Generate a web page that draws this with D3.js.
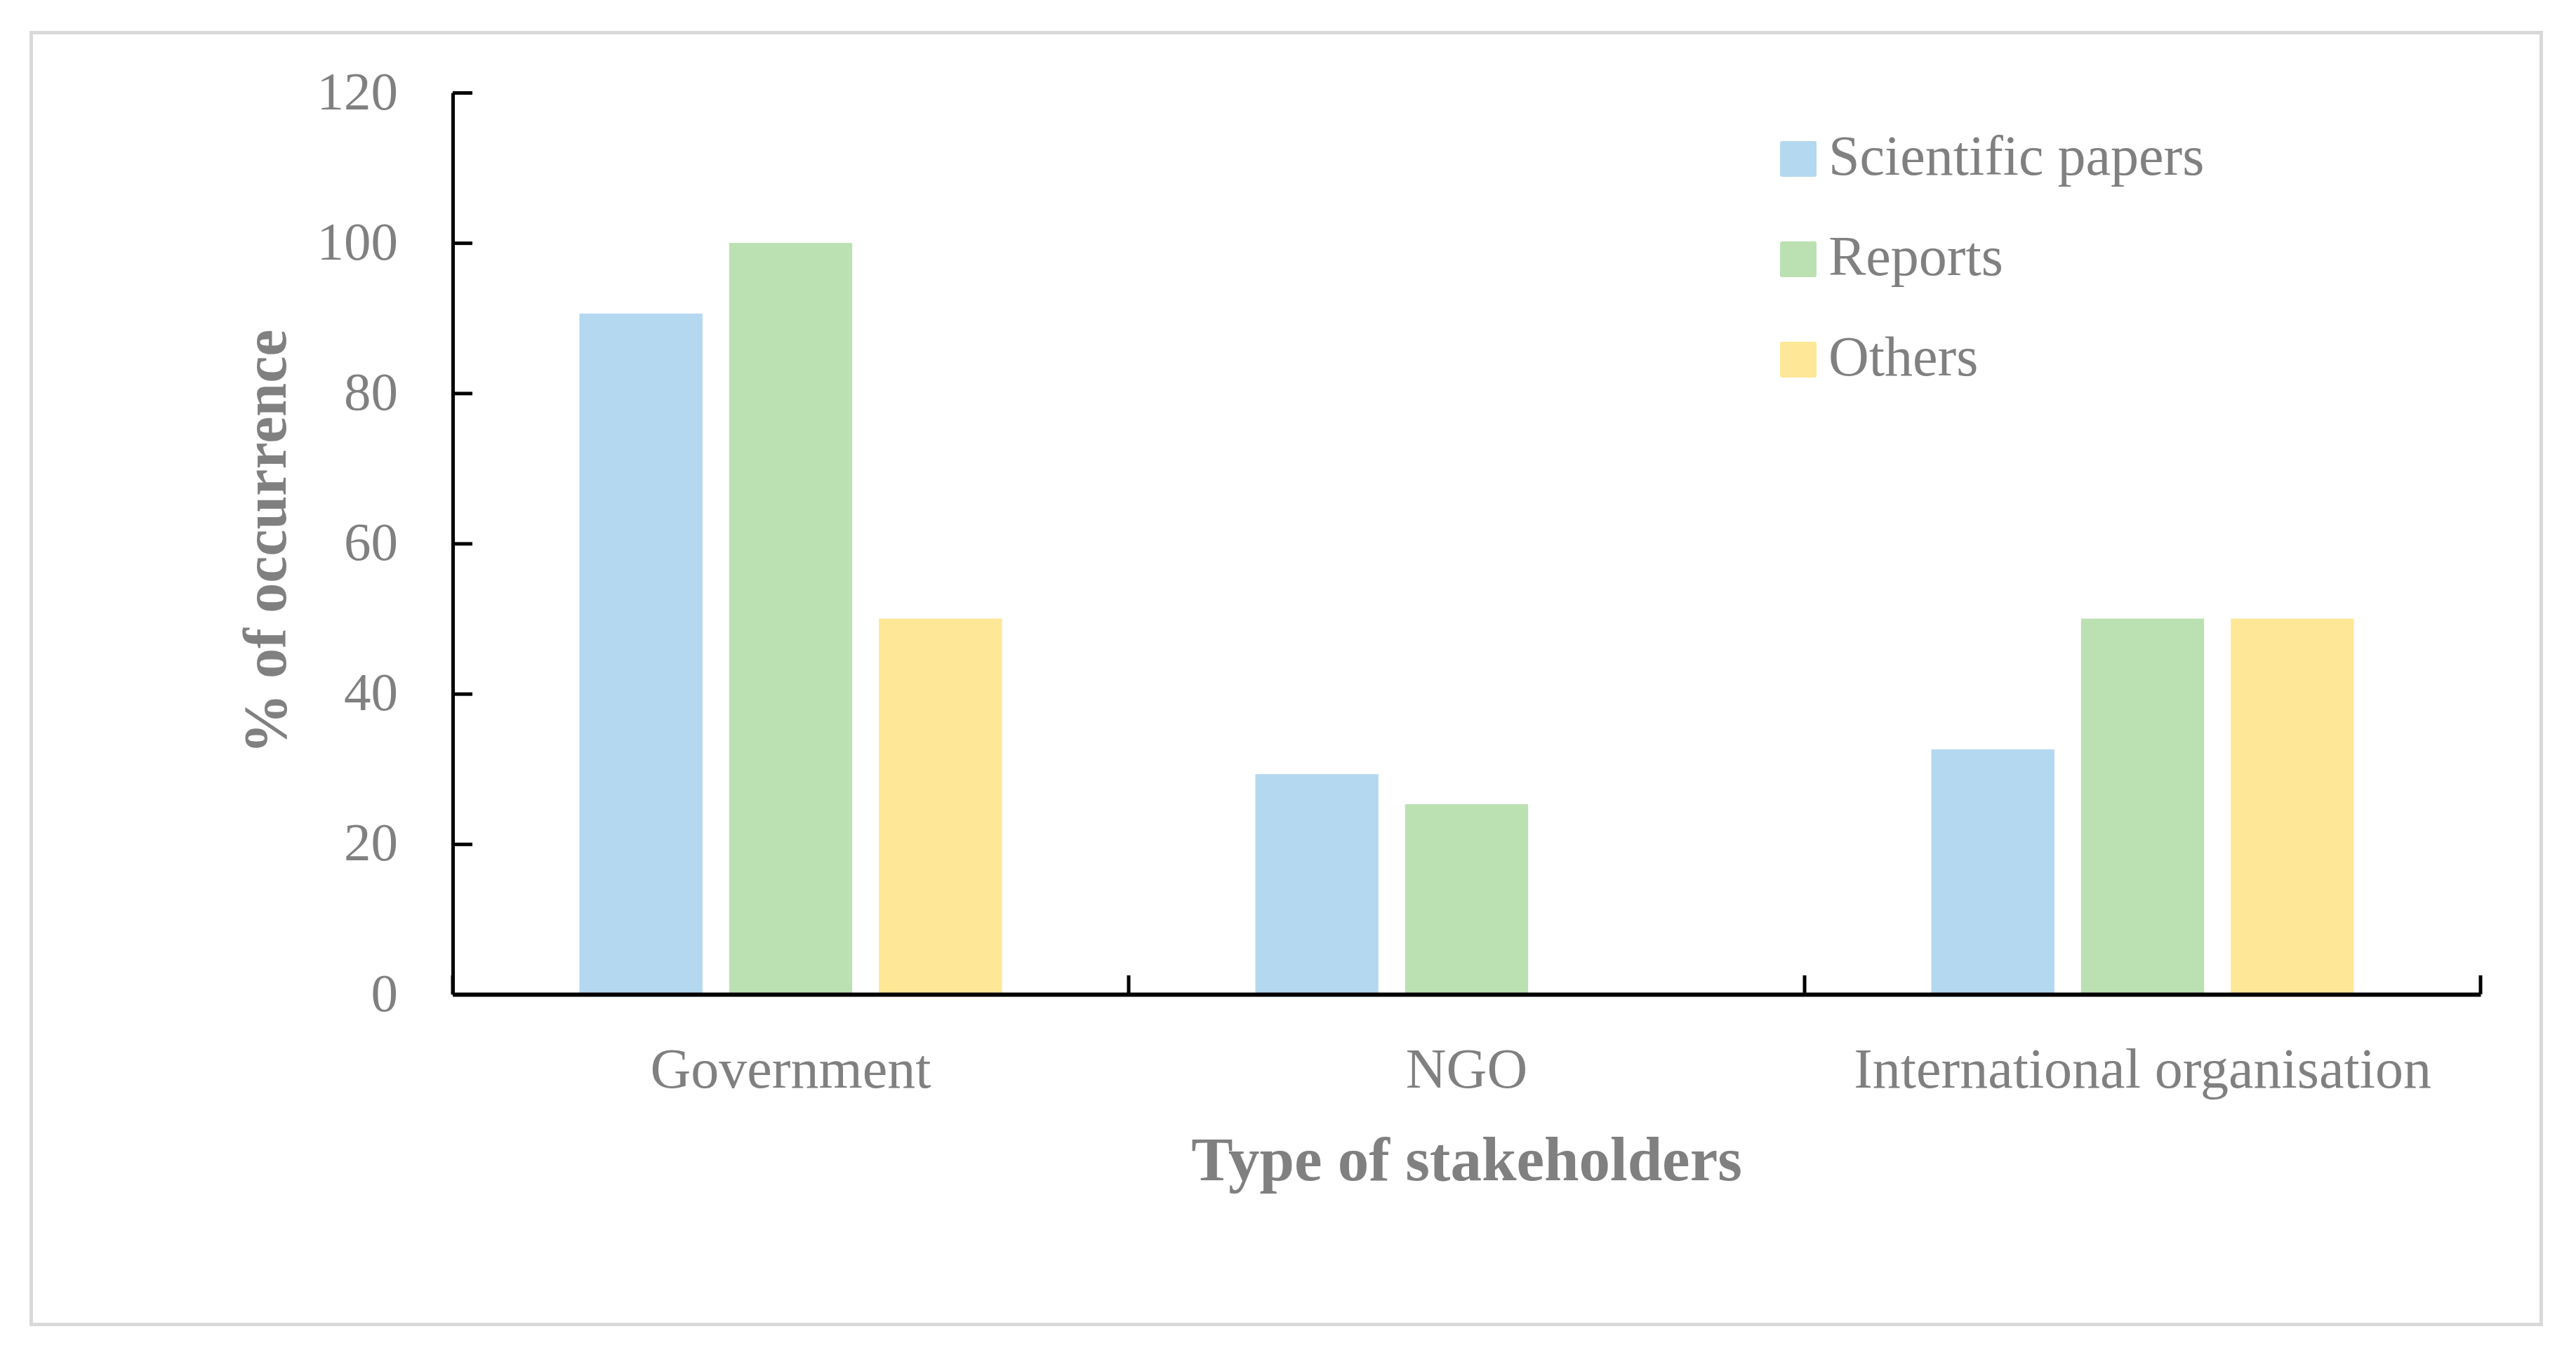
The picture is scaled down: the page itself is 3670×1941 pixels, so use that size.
<!DOCTYPE html>
<html>
<head>
<meta charset="utf-8">
<script src="https://cdn.jsdelivr.net/npm/d3@7"></script>
<style>
  html, body { margin: 0; padding: 0; background: #ffffff; }
  svg { display: block; }
</style>
</head>
<body>
<svg id="chart" width="3670" height="1941"></svg>
<script>
// ---- data ----
const categories = ["Government", "NGO", "International organisation"];
const seriesNames = ["Scientific papers", "Reports", "Others"];
const scientificPapers = [90.6, 29.3, 32.6];
const reports = [100, 25.3, 50];
const others = [50, 0, 50];
const yTicks = [0, 20, 40, 60, 80, 100, 120];
const seriesColors = ["#b4d8f0", "#bbe1b3", "#fee796"];

const seriesValues = [scientificPapers, reports, others];

const FONT = "'Palatino Linotype', 'Book Antiqua', Palatino, 'Liberation Serif', serif";
const GRAY = "#808080";

const svg = d3.select("#chart");
svg.append("rect").attr("x", 0).attr("y", 0).attr("width", 3670).attr("height", 1941).attr("fill", "#fff");

// outer border
svg.append("rect")
  .attr("x", 44.5).attr("y", 46.5).attr("width", 3576).attr("height", 1841)
  .attr("fill", "none").attr("stroke", "#d9d9d9").attr("stroke-width", 5);

const plot = { left: 645, right: 3534, top: 132, bottom: 1417 };

const y = d3.scaleLinear().domain([0, 120]).range([plot.bottom, plot.top]);
const x0 = d3.scaleBand().domain(categories).range([plot.left, plot.right]).padding(0);
const x1 = d3.scaleBand().domain(seriesNames).range([0, x0.bandwidth()])
  .paddingInner(0.178).paddingOuter(0.846);

// bars
const rows = categories.map((c, i) => ({
  cat: c,
  vals: seriesNames.map((s, j) => ({ s, j, v: seriesValues[j][i] }))
}));

const g = svg.append("g");
g.selectAll("g.cat").data(rows).join("g")
  .attr("class", "cat")
  .attr("transform", d => `translate(${x0(d.cat)},0)`)
  .selectAll("rect").data(d => d.vals.filter(e => e.v > 0)).join("rect")
  .attr("x", d => x1(d.s))
  .attr("width", x1.bandwidth())
  .attr("y", d => y(d.v))
  .attr("height", d => y(0) - y(d.v))
  .attr("fill", d => seriesColors[d.j]);

// y axis
const yAxis = d3.axisLeft(y).tickValues(yTicks).tickSize(-28).tickSizeOuter(0).tickPadding(78);
const yg = svg.append("g").attr("transform", `translate(${plot.left},0)`).call(yAxis);
yg.select(".domain").attr("stroke", "#000").attr("stroke-width", 5);
yg.selectAll(".tick line").attr("stroke", "#000").attr("stroke-width", 5);
yg.selectAll(".tick text")
  .attr("fill", GRAY).attr("font-family", FONT).attr("font-size", 77)
  .attr("dy", "0.3em");

// x axis
const xAxis = d3.axisBottom(x0).tickSize(0).tickSizeOuter(0).tickPadding(0);
const xg = svg.append("g").attr("transform", `translate(0,${plot.bottom})`).call(xAxis);
xg.select(".domain").attr("stroke", "#000").attr("stroke-width", 6);
xg.selectAll(".tick text")
  .attr("fill", GRAY).attr("font-family", FONT).attr("font-size", 80)
  .attr("dy", 0).attr("y", 133);

// boundary ticks on x axis (pointing up)
const bounds = categories.map(c => x0(c)).concat([x0(categories[categories.length - 1]) + x0.bandwidth()]);
svg.append("g").selectAll("line").data(bounds).join("line")
  .attr("x1", d => d).attr("x2", d => d)
  .attr("y1", plot.bottom).attr("y2", plot.bottom - 27)
  .attr("stroke", "#000").attr("stroke-width", 5);

// axis titles
svg.append("text")
  .attr("transform", "translate(407,772) rotate(-90)")
  .attr("text-anchor", "middle")
  .attr("font-family", FONT).attr("font-weight", "bold").attr("font-size", 86)
  .attr("fill", GRAY)
  .text("% of occurrence");

svg.append("text")
  .attr("x", (plot.left + plot.right) / 2).attr("y", 1682)
  .attr("text-anchor", "middle")
  .attr("font-family", FONT).attr("font-weight", "bold").attr("font-size", 89)
  .attr("fill", GRAY)
  .text("Type of stakeholders");

// legend
const legendTop = [201, 344, 487];
const lg = svg.append("g");
seriesNames.forEach((s, i) => {
  lg.append("rect")
    .attr("x", 2536).attr("y", legendTop[i]).attr("width", 52).attr("height", 51)
    .attr("rx", 3).attr("fill", seriesColors[i]);
  lg.append("text")
    .attr("x", 2605).attr("y", legendTop[i] + 48)
    .attr("font-family", FONT).attr("font-size", 80).attr("fill", GRAY)
    .text(s);
});
</script>
</body>
</html>
